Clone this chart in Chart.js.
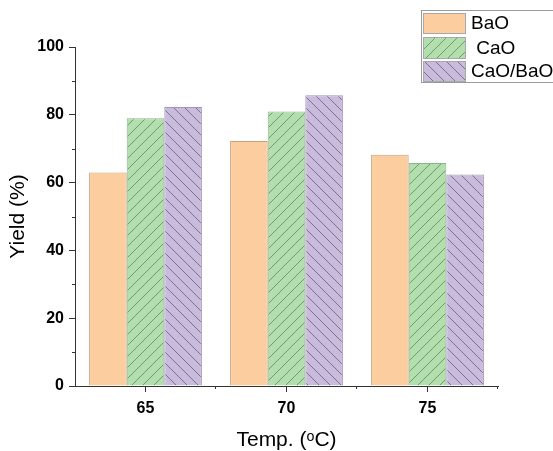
<!DOCTYPE html>
<html><head><meta charset="utf-8">
<script src="https://cdn.jsdelivr.net/npm/chart.js@4/dist/chart.umd.min.js"></script>
<style>html,body{margin:0;padding:0;background:#fff}</style>
</head><body>
<canvas id="c" width="553" height="451"></canvas>
<script>
// Yield of each catalyst at three reaction temperatures
const temps = ['65', '70', '75'];
const seriesNames = ['BaO', ' CaO', 'CaO/BaO'];
const baoYield = [63.0, 72.3, 68.2];
const caoYield = [79.0, 81.0, 65.8];
const mixYield = [82.3, 85.8, 62.4];
const yMajorTicks = [0, 20, 40, 60, 80, 100];
const yMinorTicks = [10, 30, 50, 70, 90];

const FONT = "'Liberation Sans', Arial, sans-serif";

// Diagonal hatch fill: dir = 1 for '/', -1 for '\'
function hatch(bg, line, dir) {
  const s = 11;
  const c = document.createElement('canvas');
  c.width = s; c.height = s;
  const g = c.getContext('2d');
  g.fillStyle = bg; g.fillRect(0, 0, s, s);
  g.strokeStyle = line; g.lineWidth = 1;
  for (let k = -1; k <= 1; k++) {
    g.beginPath();
    if (dir > 0) { g.moveTo(k * s, s); g.lineTo(k * s + s, 0); }
    else { g.moveTo(k * s, 0); g.lineTo(k * s + s, s); }
    g.stroke();
  }
  return g.createPattern(c, 'repeat');
}

const ctx = document.getElementById('c').getContext('2d');
const fills = [
  '#FBCD9F',
  hatch('#B3DFAF', 'rgba(90,130,88,0.75)', 1),
  hatch('#C9BBDB', 'rgba(100,85,125,0.75)', -1)
];
const borders = ['#C8A07C', '#8CB489', '#A594B8'];

// Minor ticks on both axes
const minorTicks = {
  id: 'minorTicks',
  afterDraw(chart) {
    const g = chart.ctx, y = chart.scales.y;
    const a = chart.chartArea;
    g.save();
    g.strokeStyle = '#333'; g.lineWidth = 1;
    yMinorTicks.forEach(v => {
      const py = Math.round(y.getPixelForValue(v)) + 0.5;
      g.beginPath(); g.moveTo(a.left - 3, py); g.lineTo(a.left, py); g.stroke();
    });
    const w = (a.right - a.left) / temps.length;
    for (let i = 1; i <= temps.length; i++) {
      const px = Math.round(a.left + i * w) - 0.5;
      g.beginPath(); g.moveTo(px, a.bottom); g.lineTo(px, a.bottom + 3); g.stroke();
    }
    g.restore();
  }
};

// Boxed legend in the top right corner
const boxLegend = {
  id: 'boxLegend',
  afterDraw(chart) {
    const g = chart.ctx;
    g.save();
    g.strokeStyle = '#9a9a9a'; g.lineWidth = 1;
    g.strokeRect(421.5, 10.5, 140, 72);
    const rows = [[13, 20], [37, 21], [61, 20]];
    chart.data.datasets.forEach((ds, i) => {
      const [top, h] = rows[i];
      g.fillStyle = ds.backgroundColor;
      g.fillRect(423, top, 42, h);
      g.strokeStyle = '#a8a8a8';
      g.strokeRect(423.5, top + 0.5, 42, h);
      g.fillStyle = '#000';
      g.font = '19px ' + FONT;
      g.textBaseline = 'middle';
      g.fillText(ds.label, 471, top + h / 2 + 1);
    });
    g.restore();
  }
};

const datasets = [baoYield, caoYield, mixYield].map((vals, i) => ({
  label: seriesNames[i],
  data: vals,
  backgroundColor: fills[i],
  borderColor: borders[i],
  borderWidth: 1,
  categoryPercentage: 0.8,
  barPercentage: 1
}));

new Chart(ctx, {
  type: 'bar',
  data: { labels: temps, datasets },
  options: {
    responsive: false,
    animation: false,
    layout: { padding: { left: 0, top: 47, right: 55, bottom: 0 } },
    plugins: { legend: { display: false }, tooltip: { enabled: false } },
    scales: {
      x: {
        grid: { display: true, drawOnChartArea: false, drawTicks: true, tickLength: 6, color: '#333', offset: false },
        border: { display: true, color: '#333', width: 1 },
        ticks: { color: '#000', font: { family: FONT, size: 16, weight: 'bold' }, padding: 7 },
        title: { display: true, text: 'Temp. (ᵒC)', color: '#000', font: { family: FONT, size: 21, lineHeight: 1 }, padding: { top: 0, bottom: 0 } },
        afterFit(s) { s.height = 65; }
      },
      y: {
        min: 0, max: 100,
        afterBuildTicks(s) { s.ticks = yMajorTicks.map(v => ({ value: v })); },
        grid: { display: true, drawOnChartArea: false, drawTicks: true, tickLength: 6, color: '#333' },
        border: { display: true, color: '#333', width: 1 },
        ticks: { color: '#000', font: { family: FONT, size: 16, weight: 'bold' }, padding: 5 },
        title: { display: true, text: 'Yield (%)', color: '#000', font: { family: FONT, size: 21, lineHeight: 1 }, padding: { top: 8, bottom: 0 } },
        afterFit(s) { s.width = 75; }
      }
    }
  },
  plugins: [minorTicks, boxLegend]
});
</script>
</body></html>
